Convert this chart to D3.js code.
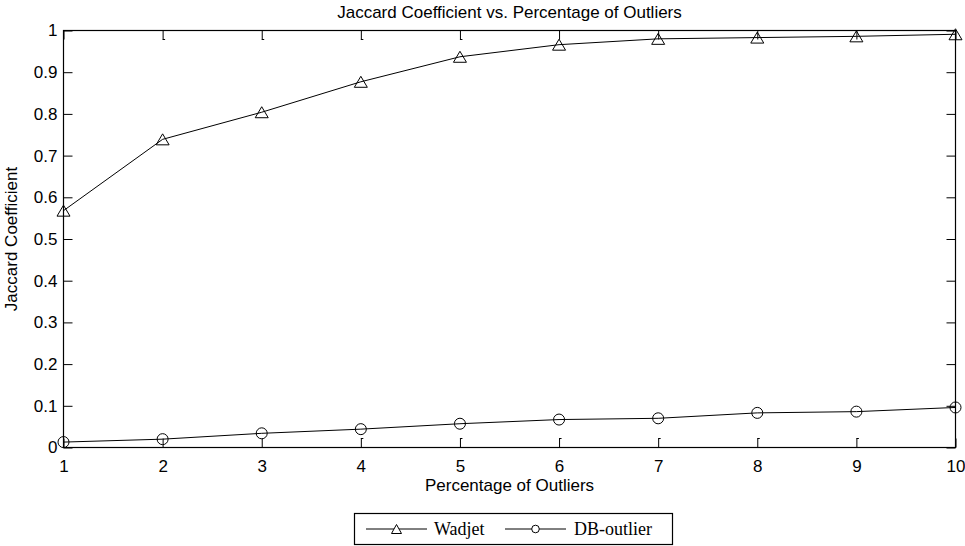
<!DOCTYPE html>
<html>
<head>
<meta charset="utf-8">
<script src="https://cdn.jsdelivr.net/npm/d3@7"></script>
<style>
  html, body { margin: 0; padding: 0; background: #fff; }
  svg { display: block; }
</style>
</head>
<body>
<svg id="chart" width="965" height="546"></svg>
<script>
// ---- data ----
const percentages = [1, 2, 3, 4, 5, 6, 7, 8, 9, 10];
const wadjet = [0.568, 0.739, 0.804, 0.877, 0.937, 0.966, 0.980, 0.983, 0.986, 0.991];
const dbOutlier = [0.013, 0.020, 0.034, 0.044, 0.057, 0.067, 0.070, 0.083, 0.086, 0.096];
const yTicks = [0, 0.1, 0.2, 0.3, 0.4, 0.5, 0.6, 0.7, 0.8, 0.9, 1];
const xTicks = [1, 2, 3, 4, 5, 6, 7, 8, 9, 10];
const topHookTicks = [2, 3, 4, 5];
const bottomHookTicks = [4, 5, 6, 7, 8, 9];
const seriesNames = ["Wadjet", "DB-outlier"];
const titleText = "Jaccard Coefficient vs. Percentage of Outliers";
const xLabelText = "Percentage of Outliers";
const yLabelText = "Jaccard Coefficient";

// ---- layout ----
const L = 63.5, R = 955.5, T = 30.5, B = 447.5;
const sans = "'Liberation Sans', Arial, Helvetica, sans-serif";
const serif = "'Liberation Serif', 'Times New Roman', Times, serif";
const svg = d3.select("#chart");

const x = d3.scaleLinear().domain([1, 10]).range([L, R]);
const y = d3.scaleLinear().domain([0, 1]).range([B, T]);

const tickLen = 9;

// axes with inward ticks
const axisBottom = d3.axisBottom(x).tickValues(xTicks).tickSizeInner(-tickLen).tickSizeOuter(0).tickPadding(12).tickFormat(d3.format("d"));
const axisTop = d3.axisTop(x).tickValues(xTicks).tickSizeInner(-tickLen).tickSizeOuter(0).tickFormat("");
const axisLeft = d3.axisLeft(y).tickValues(yTicks).tickSizeInner(-tickLen).tickSizeOuter(0).tickPadding(6).tickFormat(d => d3.format("")(+d.toFixed(1)));
const axisRight = d3.axisRight(y).tickValues(yTicks).tickSizeInner(-tickLen).tickSizeOuter(0).tickFormat("");

function styleAxis(g) {
  g.select(".domain").remove();
  g.selectAll(".tick line").attr("stroke", "#000").attr("stroke-width", 1);
  g.selectAll(".tick text").attr("fill", "#000").attr("font-family", sans).attr("font-size", 17);
}

svg.append("g").attr("transform", `translate(0,${B})`).call(axisBottom).call(styleAxis);
svg.append("g").attr("transform", `translate(0,${T})`).call(axisTop).call(styleAxis);
svg.append("g").attr("transform", `translate(${L},0)`).call(axisLeft).call(styleAxis);
svg.append("g").attr("transform", `translate(${R},0)`).call(axisRight).call(styleAxis);

// small hooks at the inner ends of some top/bottom ticks (as in the reference rendering)
svg.append("g").selectAll("line").data(topHookTicks).join("line")
  .attr("x1", d => x(d)).attr("x2", d => x(d) + 2.5)
  .attr("y1", T + tickLen).attr("y2", T + tickLen)
  .attr("stroke", "#000").attr("stroke-width", 1);
svg.append("g").selectAll("line").data(bottomHookTicks).join("line")
  .attr("x1", d => x(d)).attr("x2", d => x(d) + 2.5)
  .attr("y1", B - tickLen).attr("y2", B - tickLen)
  .attr("stroke", "#000").attr("stroke-width", 1);

// plot box
svg.append("rect")
  .attr("x", L).attr("y", T).attr("width", R - L).attr("height", B - T)
  .attr("fill", "none").attr("stroke", "#000").attr("stroke-width", 1.2);

// ---- series ----
const line = d3.line().x((d, i) => x(percentages[i])).y(d => y(d));

svg.append("path").datum(wadjet).attr("d", line)
  .attr("fill", "none").attr("stroke", "#000").attr("stroke-width", 1);
svg.append("path").datum(dbOutlier).attr("d", line)
  .attr("fill", "none").attr("stroke", "#000").attr("stroke-width", 1);

function triPath(w, h) {
  return `M0,${-h / 2}L${w / 2},${h / 2}L${-w / 2},${h / 2}Z`;
}

svg.append("g").selectAll("path").data(wadjet).join("path")
  .attr("transform", (d, i) => `translate(${x(percentages[i])},${y(d)})`)
  .attr("d", triPath(13, 11))
  .attr("fill", "none").attr("stroke", "#000").attr("stroke-width", 1);

svg.append("g").selectAll("circle").data(dbOutlier).join("circle")
  .attr("cx", (d, i) => x(percentages[i])).attr("cy", d => y(d)).attr("r", 5.5)
  .attr("fill", "none").attr("stroke", "#000").attr("stroke-width", 1);

// ---- texts ----
svg.append("text").attr("x", (L + R) / 2).attr("y", 18)
  .attr("text-anchor", "middle").attr("font-family", sans).attr("font-size", 17).attr("fill", "#000")
  .text(titleText);

svg.append("text").attr("x", (L + R) / 2).attr("y", 491)
  .attr("text-anchor", "middle").attr("font-family", sans).attr("font-size", 17).attr("fill", "#000")
  .text(xLabelText);

svg.append("text").attr("transform", `translate(17,${(T + B) / 2}) rotate(-90)`)
  .attr("text-anchor", "middle").attr("font-family", sans).attr("font-size", 17).attr("fill", "#000")
  .text(yLabelText);

// ---- legend ----
const lg = svg.append("g");
lg.append("rect").attr("x", 354.5).attr("y", 513.5).attr("width", 318).attr("height", 31)
  .attr("fill", "#fff").attr("stroke", "#000").attr("stroke-width", 1.2);
const ly = 529;
const legendItems = [
  { name: seriesNames[0], x0: 366, x1: 427, tx: 434, marker: "tri" },
  { name: seriesNames[1], x0: 505, x1: 566, tx: 574, marker: "circ" }
];
legendItems.forEach(it => {
  lg.append("line").attr("x1", it.x0).attr("x2", it.x1).attr("y1", ly).attr("y2", ly)
    .attr("stroke", "#000").attr("stroke-width", 1);
  const cx = (it.x0 + it.x1) / 2;
  if (it.marker === "tri") {
    lg.append("path").attr("transform", `translate(${cx},${ly})`).attr("d", triPath(10, 9))
      .attr("fill", "#fff").attr("stroke", "#000").attr("stroke-width", 1);
  } else {
    lg.append("circle").attr("cx", cx).attr("cy", ly).attr("r", 3.8)
      .attr("fill", "#fff").attr("stroke", "#000").attr("stroke-width", 1);
  }
  lg.append("text").attr("x", it.tx).attr("y", ly + 6).attr("font-family", serif).attr("font-size", 18)
    .attr("fill", "#000").text(it.name);
});
</script>
</body>
</html>
